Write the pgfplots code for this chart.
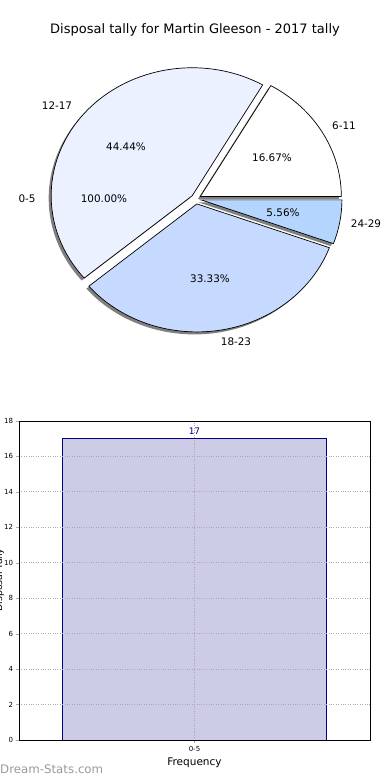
\documentclass[border=0pt]{standalone}
\usepackage{pgfplots}
\pgfplotsset{compat=1.18}
\usepackage{fontspec}
\setmainfont{DejaVu Sans}
\definecolor{cA}{HTML}{FFFFFF}
\definecolor{cB}{HTML}{EBF1FE}
\definecolor{cC}{HTML}{C6D9FE}
\definecolor{cD}{HTML}{B4D5FE}
\definecolor{barfill}{HTML}{CCCCE6}
\definecolor{navyc}{HTML}{000080}
\definecolor{gridc}{HTML}{AAAAAA}
\definecolor{wm}{HTML}{9A9A9A}
% pie data: counts per group (total 18)
\def\total{18}
\def\vA{3}  % 6-11
\def\vB{8}  % 12-17
\def\vC{6}  % 18-23
\def\vD{1}  % 24-29
\def\cx{196}\def\cy{581}\def\rx{141}\def\ry{128}\def\expl{5}
\newcommand\pieslice[4]{% #1 start angle, #2 end angle, #3 colour, #4 shadow?
  \pgfmathsetmacro\pmid{(#1+#2)/2}%
  \ifnum#4=1
    \pgfmathsetmacro\ox{\cx+\expl*cos(\pmid)-2.5}%
    \pgfmathsetmacro\oy{\cy+\expl*sin(\pmid)-2.5}%
  \else
    \pgfmathsetmacro\ox{\cx+\expl*cos(\pmid)}%
    \pgfmathsetmacro\oy{\cy+\expl*sin(\pmid)}%
  \fi
  \pgfmathsetmacro\sx{\ox+\rx*cos(#1)}%
  \pgfmathsetmacro\sy{\oy+\ry*sin(#1)}%
  \ifnum#4=1
    \edef\temp{\noexpand\fill[black!50] (axis cs:\ox,\oy) -- (axis cs:\sx,\sy)
      arc[start angle=#1, end angle=#2, x radius=\rx pt, y radius=\ry pt] -- cycle;}%
  \else
    \edef\temp{\noexpand\draw[fill=#3, line width=0.7pt] (axis cs:\ox,\oy) -- (axis cs:\sx,\sy)
      arc[start angle=#1, end angle=#2, x radius=\rx pt, y radius=\ry pt] -- cycle;}%
  \fi
  \temp
}
\begin{document}
\begin{tikzpicture}[x=1pt,y=1pt]
\useasboundingbox (0,0) rectangle (390pt,780pt);
\begin{axis}[at={(0pt,0pt)}, anchor=south west, scale only axis, width=390pt, height=780pt,
  xmin=0, xmax=390, ymin=0, ymax=780, hide axis, clip=false]
  \pgfmathsetmacro\aA{0}
  \pgfmathsetmacro\aB{\aA+360*\vA/\total}
  \pgfmathsetmacro\aC{\aB+360*\vB/\total}
  \pgfmathsetmacro\aD{\aC+360*\vC/\total}
  \pgfmathsetmacro\aE{\aD+360*\vD/\total}
  \pieslice{\aA}{\aB}{cA}{1}
  \pieslice{\aB}{\aC}{cB}{1}
  \pieslice{\aC}{\aD}{cC}{1}
  \pieslice{\aD}{\aE}{cD}{1}
  \pieslice{\aA}{\aB}{cA}{0}
  \pieslice{\aB}{\aC}{cB}{0}
  \pieslice{\aC}{\aD}{cC}{0}
  \pieslice{\aD}{\aE}{cD}{0}
  \begin{scope}[every node/.style={font=\fontsize{10.4}{12}\selectfont}]
  \node at (axis cs:344,654) {6-11};
  \node at (axis cs:272,622) {16.67\%};
  \node at (axis cs:57,674) {12-17};
  \node at (axis cs:126,633) {44.44\%};
  \node at (axis cs:27,581) {0-5};
  \node at (axis cs:104,581) {100.00\%};
  \node at (axis cs:210,501) {33.33\%};
  \node at (axis cs:236,438) {18-23};
  \node at (axis cs:283,567) {5.56\%};
  \node at (axis cs:366,556) {24-29};
  \end{scope}
\end{axis}
\node[font=\fontsize{13}{15}\selectfont] at (195pt,750pt) {Disposal tally for Martin Gleeson - 2017 tally};
\begin{axis}[at={(19pt,40pt)}, anchor=south west, scale only axis, width=351pt, height=319pt,
  xmin=-0.665, xmax=0.665, ymin=0, ymax=18,
  /pgf/number format/assume math mode=true,
  ytick={0,2,...,18}, xtick={0}, xticklabels={0-5},
  ymajorgrids, xmajorgrids, axis on top,
  grid style={dotted, gridc, line width=0.9pt},
  tick label style={font=\fontsize{7}{8}\selectfont},
  tick align=outside, ytick pos=left, xtick pos=bottom,
  major tick length=2.5pt, tick style={gridc},
  axis line style={black, line width=0.8pt},
  xlabel={Frequency},
  xlabel style={font=\fontsize{10.5}{12}\selectfont, at={(axis description cs:0.5,0)}, anchor=base, yshift=-25pt},
  ]
  \addplot[ybar, bar width=1, fill=barfill, draw=navyc, line width=0.8pt,
    nodes near coords, nodes near coords style={text=navyc, font=\fontsize{9}{10}\selectfont, anchor=south, yshift=0pt}]
    coordinates {(0,17)};
\end{axis}
\node[rotate=90, anchor=base, font=\fontsize{9.3}{10}\selectfont] at (2pt,200pt) {Disposal Tally};
\node[anchor=base west, text=wm, font=\fontsize{11.8}{13}\selectfont, inner sep=0pt] at (0pt,6pt) {Dream-Stats.com};
\end{tikzpicture}
\end{document}
